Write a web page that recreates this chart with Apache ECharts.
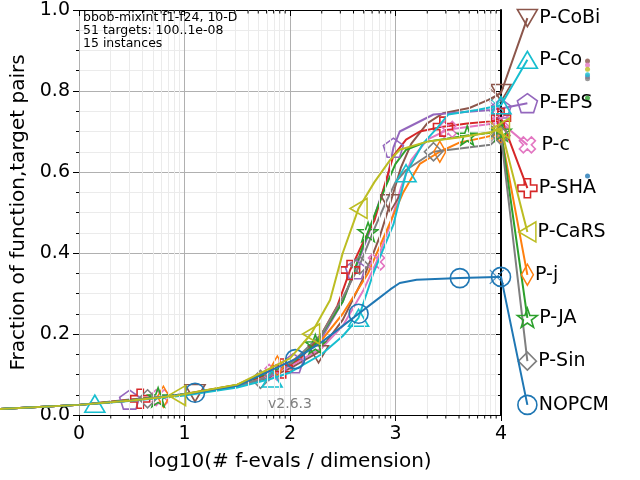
<!DOCTYPE html>
<html>
<head>
<meta charset="utf-8">
<script src="https://cdn.jsdelivr.net/npm/echarts@6/dist/echarts.min.js"></script>
<style>
  html, body { margin: 0; padding: 0; background: #fff; }
  #chart { width: 640px; height: 480px; }
</style>
</head>
<body>
<div id="chart"></div>
<script>
'use strict';

// algorithm names, top to bottom as they sit in the right-hand legend
const algNames = ['P-CoBi', 'P-Co', 'P-EPS', 'P-c', 'P-SHA', 'P-CaRS', 'P-j', 'P-JA', 'P-Sin', 'NOPCM'];
// y level of each legend label (fraction)
const labelLevels = [0.98, 0.877, 0.77, 0.667, 0.56, 0.452, 0.346, 0.24, 0.133, 0.025];
// small dots far right (null = not visible)
const endDots = [0.874, 0.84, 0.835, 0.864, null, 0.854, null, 0.783, 0.83, 0.59];

// ECDF curves: [log10(evals/dim), fraction]
const coBiCurve = [[-0.75, 0.015], [0, 0.025], [0.5, 0.036], [1.1, 0.054], [1.5, 0.072], [1.8, 0.092], [2.0, 0.115], [2.27, 0.155], [2.5, 0.235], [2.7, 0.34], [2.85, 0.44], [2.95, 0.523], [3.05, 0.61], [3.15, 0.67], [3.3, 0.72], [3.45, 0.745], [3.7, 0.758], [3.88, 0.778], [4.0, 0.795]];
const coCurve = [[-0.75, 0.015], [0, 0.025], [0.15, 0.028], [0.5, 0.035], [1.0, 0.048], [1.5, 0.068], [1.83, 0.09], [2.0, 0.105], [2.3, 0.15], [2.5, 0.195], [2.65, 0.24], [2.79, 0.35], [2.9, 0.42], [2.98, 0.47], [3.1, 0.597], [3.26, 0.67], [3.4, 0.71], [3.5, 0.742], [3.77, 0.753], [4.0, 0.765]];
const epsCurve = [[-0.75, 0.015], [0, 0.025], [0.48, 0.038], [1.0, 0.05], [1.5, 0.072], [1.8, 0.095], [2.03, 0.128], [2.3, 0.19], [2.5, 0.28], [2.62, 0.36], [2.75, 0.45], [2.85, 0.53], [2.92, 0.58], [2.98, 0.66], [3.04, 0.70], [3.36, 0.742], [3.9, 0.753], [4.0, 0.757]];
const cCurve = [[-0.75, 0.015], [0, 0.025], [0.5, 0.036], [0.77, 0.043], [1.0, 0.05], [1.5, 0.07], [1.84, 0.105], [2.0, 0.12], [2.3, 0.165], [2.5, 0.22], [2.7, 0.31], [2.82, 0.378], [2.95, 0.47], [3.05, 0.56], [3.15, 0.63], [3.3, 0.68], [3.5, 0.705], [3.7, 0.712], [4.0, 0.722]];
const shaCurve = [[-0.75, 0.015], [0, 0.025], [0.58, 0.04], [1.0, 0.05], [1.5, 0.072], [1.93, 0.115], [2.1, 0.14], [2.3, 0.2], [2.45, 0.27], [2.57, 0.358], [2.7, 0.43], [2.8, 0.48], [2.9, 0.57], [2.98, 0.64], [3.1, 0.68], [3.23, 0.70], [3.45, 0.712], [3.68, 0.72], [3.9, 0.725], [4.0, 0.733]];
const carsCurve = [[-0.75, 0.015], [0, 0.025], [0.5, 0.036], [0.93, 0.048], [1.5, 0.075], [2.0, 0.14], [2.2, 0.2], [2.38, 0.284], [2.5, 0.4], [2.65, 0.51], [2.8, 0.575], [2.95, 0.63], [3.04, 0.655], [3.3, 0.675], [3.6, 0.685], [3.9, 0.698], [4.0, 0.708]];
const jCurve = [[-0.75, 0.015], [0, 0.025], [0.5, 0.037], [0.8, 0.045], [1.0, 0.052], [1.5, 0.075], [1.88, 0.12], [2.0, 0.13], [2.3, 0.185], [2.5, 0.25], [2.74, 0.35], [2.93, 0.464], [3.07, 0.548], [3.23, 0.62], [3.42, 0.65], [3.6, 0.672], [3.8, 0.683], [4.0, 0.695]];
const jaCurve = [[-0.75, 0.015], [0, 0.025], [0.5, 0.037], [0.75, 0.044], [1.0, 0.051], [1.5, 0.074], [2.0, 0.125], [2.24, 0.175], [2.5, 0.28], [2.6, 0.35], [2.74, 0.452], [2.9, 0.56], [3.0, 0.62], [3.1, 0.655], [3.3, 0.675], [3.68, 0.69], [3.9, 0.697], [4.0, 0.70]];
const sinCurve = [[-0.75, 0.015], [0, 0.025], [0.5, 0.036], [0.65, 0.04], [1.0, 0.05], [1.5, 0.072], [1.72, 0.088], [2.0, 0.125], [2.3, 0.2], [2.5, 0.29], [2.66, 0.37], [2.8, 0.46], [2.9, 0.52], [3.0, 0.575], [3.1, 0.605], [3.36, 0.65], [3.9, 0.667], [4.0, 0.69]];
const nopcmCurve = [[-0.75, 0.015], [0, 0.025], [0.5, 0.036], [1.1, 0.055], [1.5, 0.072], [2.05, 0.138], [2.3, 0.18], [2.5, 0.22], [2.65, 0.25], [2.8, 0.28], [2.95, 0.31], [3.04, 0.326], [3.2, 0.334], [3.61, 0.338], [3.96, 0.341], [4.0, 0.341]];

// marker positions on each curve
const coBiMarks = [[1.1, 0.054], [2.27, 0.15], [2.95, 0.523], [4.0, 0.795]];
const coMarks = [[0.15, 0.028], [1.83, 0.09], [2.65, 0.24], [3.1, 0.597], [4.0, 0.765]];
const epsMarks = [[0.48, 0.038], [2.03, 0.128], [2.62, 0.36], [2.98, 0.66], [4.0, 0.757]];
const cMarks = [[0.77, 0.043], [1.84, 0.105], [2.82, 0.378], [3.5, 0.705], [4.0, 0.722]];
const shaMarks = [[0.58, 0.04], [1.93, 0.115], [2.57, 0.358], [3.45, 0.712], [4.0, 0.733]];
const carsMarks = [[0.93, 0.048], [2.2, 0.2], [2.65, 0.51], [4.0, 0.708]];
const jMarks = [[0.8, 0.045], [1.88, 0.12], [3.42, 0.65], [4.0, 0.695]];
const jaMarks = [[0.75, 0.044], [2.24, 0.175], [2.74, 0.452], [3.68, 0.69], [4.0, 0.70]];
const sinMarks = [[0.65, 0.04], [1.72, 0.088], [2.66, 0.37], [3.36, 0.65], [4.0, 0.69]];
const nopcmMarks = [[1.1, 0.055], [2.05, 0.138], [2.65, 0.25], [3.61, 0.338], [4.0, 0.341]];
// thin "x" marks close to the budget end
const budgetMarks = [0.79, 0.765, 0.757, 0.722, 0.733, 0.708, 0.695, 0.70, 0.69, 0.341];

const curves = [coBiCurve, coCurve, epsCurve, cCurve, shaCurve, carsCurve, jCurve, jaCurve, sinCurve, nopcmCurve];
const marks = [coBiMarks, coMarks, epsMarks, cMarks, shaMarks, carsMarks, jMarks, jaMarks, sinMarks, nopcmMarks];

// styling
const LABEL_X = 4.25;
const DOT_X = 4.82;
const BUDGET_X = 3.96;
const FONT = 'DejaVu Sans';
const colors = ['#8c564b', '#17becf', '#9467bd', '#e377c2', '#d62728', '#bcbd22', '#ff7f0e', '#2ca02c', '#7f7f7f', '#1f77b4'];
const PENTAGON = 'path://M0,-10L9.51,-3.09L5.88,8.09L-5.88,8.09L-9.51,-3.09Z';
const STAR = 'path://M0,-10L2.35,-3.24L9.51,-3.09L3.8,1.24L5.88,8.09L0,4L-5.88,8.09L-3.8,1.24L-9.51,-3.09L-2.35,-3.24Z';
const PLUS = 'path://M-3.3,-10H3.3V-3.3H10V3.3H3.3V10H-3.3V3.3H-10V-3.3H-3.3Z';
const THIN_DIAMOND = 'path://M0,-10L6,0L0,10L-6,0Z';
const THIN_X = 'path://M-10,-10L10,10M10,-10L-10,10';
const symbols = [
    { symbol: 'triangle', rotate: 180, size: [20, 17] },
    { symbol: 'triangle', rotate: 0, size: [20, 17] },
    { symbol: PENTAGON, rotate: 0, size: [20, 19] },
    { symbol: PLUS, rotate: 45, size: [17, 17] },
    { symbol: PLUS, rotate: 0, size: [19, 19] },
    { symbol: 'triangle', rotate: 90, size: [20, 17] },
    { symbol: THIN_DIAMOND, rotate: 0, size: [12, 21] },
    { symbol: STAR, rotate: 0, size: [20, 19] },
    { symbol: 'diamond', rotate: 0, size: [18, 18] },
    { symbol: 'circle', rotate: 0, size: [19, 19] }
];
const zOrder = [3, 4, 3, 3, 3, 6, 3, 3, 3, 5];

// log-spaced minor grid / tick positions inside each decade
const minorX = [];
for (let d = 0; d < 4; d++) {
    for (let k = 2; k < 10; k++) minorX.push(d + Math.log10(k));
}

function curveSeries(points, color, z) {
    return {
        type: 'custom',
        coordinateSystem: 'cartesian2d',
        clip: false,
        silent: true,
        z: z,
        data: points,
        renderItem: function (params, api) {
            if (params.dataIndex !== 0) return null;
            return {
                type: 'polyline',
                shape: { points: points.map(p => api.coord(p)) },
                style: { stroke: color, lineWidth: 2, fill: null, lineJoin: 'round' }
            };
        }
    };
}

function buildSeries() {
    const out = [{
        type: 'line',
        data: [],
        silent: true,
        z: 1,
        markLine: {
            silent: true,
            symbol: ['none', 'none'],
            animation: false,
            label: { show: false },
            lineStyle: { color: '#ebebeb', width: 1, type: 'solid' },
            data: minorX.map(v => ({ xAxis: v }))
        }
    }, {
        // log minor ticks on bottom (outward) and top (inward) spines
        type: 'custom',
        coordinateSystem: 'cartesian2d',
        clip: false,
        silent: true,
        z: 8,
        data: minorX.map(v => [v, 0]),
        renderItem: function (params, api) {
            const b = api.coord([api.value(0), 0]);
            const t = api.coord([api.value(0), 1]);
            const st = { stroke: '#000', lineWidth: 1 };
            return {
                type: 'group',
                children: [
                    { type: 'line', shape: { x1: b[0], y1: b[1], x2: b[0], y2: b[1] + 3.5 }, style: st },
                    { type: 'line', shape: { x1: t[0], y1: t[1], x2: t[0], y2: t[1] + 3.5 }, style: st }
                ]
            };
        }
    }];
    algNames.forEach((name, i) => {
        const c = colors[i];
        const sym = symbols[i];
        out.push(curveSeries(curves[i].concat([[LABEL_X, labelLevels[i]]]), c, zOrder[i]));
        const pts = marks[i].map(p => ({ value: p }));
        pts.push({
            value: [LABEL_X, labelLevels[i]],
            label: {
                show: true, position: 'right', distance: 1,
                formatter: name, color: '#000', fontSize: 19, fontFamily: FONT
            }
        });
        out.push({
            type: 'scatter',
            data: pts,
            clip: false,
            z: zOrder[i],
            symbol: sym.symbol,
            symbolRotate: sym.rotate,
            symbolSize: sym.size,
            itemStyle: { color: 'rgba(0,0,0,0)', borderColor: c, borderWidth: 1.6, opacity: 1 }
        });
        out.push({
            type: 'scatter',
            data: [[BUDGET_X, budgetMarks[i]]],
            clip: false,
            z: zOrder[i],
            symbol: THIN_X,
            symbolSize: 14,
            itemStyle: { color: 'rgba(0,0,0,0)', borderColor: c, borderWidth: 1.2 }
        });
        if (endDots[i] !== null) {
            out.push({
                type: 'scatter',
                data: [[DOT_X, endDots[i]]],
                clip: false,
                z: zOrder[i],
                symbol: 'circle',
                symbolSize: 5,
                itemStyle: { color: c }
            });
        }
    });
    return out;
}

function renderChart() {
    const chart = echarts.init(document.getElementById('chart'));
    chart.setOption({
        animation: false,
        backgroundColor: '#fff',
        textStyle: { fontFamily: FONT },
        grid: { left: 79, right: 139, top: 10, bottom: 65, containLabel: false },
        xAxis: [{
            type: 'value', min: 0, max: 4, interval: 1, position: 'bottom',
            name: 'log10(# f-evals / dimension)', nameLocation: 'middle', nameGap: 37,
            nameTextStyle: { fontSize: 20, color: '#000', fontFamily: FONT },
            axisLine: { show: true, onZero: false, lineStyle: { color: '#000', width: 1 } },
            axisTick: { show: true, length: 6, lineStyle: { color: '#000' } },
            axisLabel: { fontSize: 19, color: '#000', margin: 10, fontFamily: FONT },
            splitLine: { show: true, lineStyle: { color: '#b0b0b0', width: 1 } }
        }, {
            type: 'value', min: 0, max: 4, interval: 1, position: 'top',
            axisLine: { show: true, onZero: false, lineStyle: { color: '#000', width: 1 } },
            axisTick: { show: true, inside: true, length: 6, lineStyle: { color: '#000' } },
            axisLabel: { show: false },
            splitLine: { show: false }
        }],
        yAxis: [{
            type: 'value', min: 0, max: 1, interval: 0.2, position: 'left',
            name: 'Fraction of function,target pairs', nameLocation: 'middle', nameGap: 44,
            nameTextStyle: { fontSize: 20, color: '#000', fontFamily: FONT },
            axisLine: { show: false },
            axisTick: { show: true, length: 6, lineStyle: { color: '#000' } },
            minorTick: { show: true, splitNumber: 4, length: 3, lineStyle: { color: '#000' } },
            axisLabel: { fontSize: 19, color: '#000', margin: 9, fontFamily: FONT, formatter: v => v.toFixed(1) },
            splitLine: { show: true, lineStyle: { color: '#b0b0b0', width: 1 } },
            minorSplitLine: { show: true, lineStyle: { color: '#ebebeb', width: 1 } }
        }, {
            type: 'value', min: 0, max: 1, interval: 0.2, position: 'right',
            axisLine: { show: true, onZero: false, lineStyle: { color: '#000', width: 2 } },
            axisTick: { show: true, inside: true, length: 5, lineStyle: { color: '#000' } },
            minorTick: { show: true, splitNumber: 4, length: 3, lineStyle: { color: '#000' } },
            axisLabel: { show: false },
            splitLine: { show: false }
        }],
        graphic: [{
            type: 'text', left: 83, top: 11, z: 10,
            style: {
                text: 'bbob-mixint f1-f24, 10-D\n51 targets: 100..1e-08\n15 instances',
                fontSize: 12.5, fontFamily: FONT, fill: '#000', lineHeight: 13
            }
        }, {
            type: 'text', left: 268, top: 397, z: 10,
            style: { text: 'v2.6.3', fontSize: 14, fontFamily: FONT, fill: '#808080' }
        }],
        series: buildSeries()
    });
}

renderChart();
</script>
</body>
</html>
